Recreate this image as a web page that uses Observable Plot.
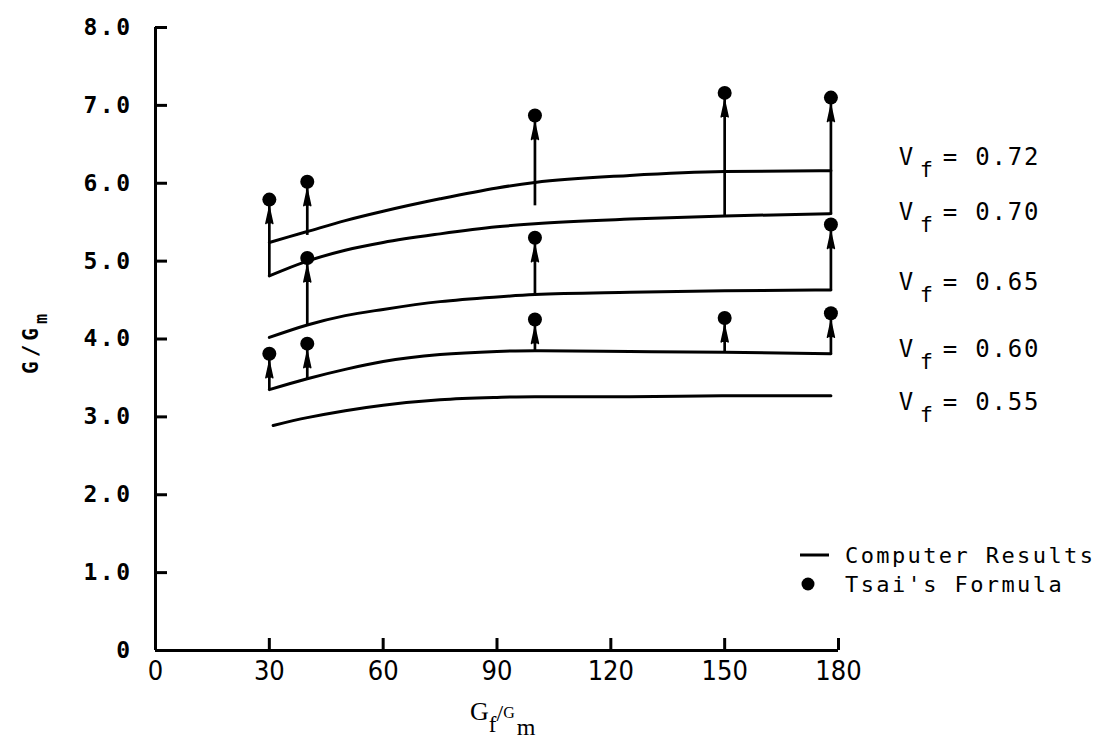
<!DOCTYPE html>
<html><head><meta charset="utf-8">
<script src="https://cdn.jsdelivr.net/npm/d3@7"></script>
<script src="https://cdn.jsdelivr.net/npm/@observablehq/plot@0.6"></script>
<style>body{margin:0;background:#fff} svg{display:block;background:#fff}</style>
</head><body><div id="chart"></div>
<script>
// ---- data ----
const curveX    = [30, 40, 50, 60, 75, 90, 100, 125, 150, 178];
const curveX055 = [31, 40, 50, 60, 75, 90, 100, 125, 150, 178];
const vf072 = [5.24, 5.38, 5.52, 5.64, 5.80, 5.94, 6.01, 6.10, 6.15, 6.16];
const vf070 = [4.81, 5.00, 5.14, 5.24, 5.35, 5.44, 5.48, 5.54, 5.58, 5.61];
const vf065 = [4.02, 4.18, 4.30, 4.38, 4.48, 4.54, 4.57, 4.60, 4.62, 4.63];
const vf060 = [3.35, 3.49, 3.61, 3.71, 3.80, 3.84, 3.85, 3.84, 3.83, 3.81];
const vf055 = [2.89, 2.99, 3.08, 3.15, 3.22, 3.25, 3.26, 3.26, 3.27, 3.27];
const seriesNames = ["0.72", "0.70", "0.65", "0.60", "0.55"];

const tsaiX    = [30, 30, 40, 40, 40, 100, 100, 100, 150, 150, 178, 178, 178];
const tsaiY    = [5.79, 3.81, 6.02, 5.04, 3.94, 6.87, 5.30, 4.25, 7.16, 4.27, 7.10, 5.47, 4.33];
const stemBase = [4.81, 3.35, 5.33, 4.18, 3.49, 5.71, 4.57, 3.85, 5.58, 3.83, 5.61, 4.63, 3.81];

const xTicks = [0, 30, 60, 90, 120, 150, 180];
const yTicks = [0, 1, 2, 3, 4, 5, 6, 7, 8];

// ---- build tables ----
const seriesVals = [vf072, vf070, vf065, vf060, vf055];
const lines = [];
seriesVals.forEach((vals, s) => {
  const xs = s === 4 ? curveX055 : curveX;
  vals.forEach((v, i) => lines.push({series: seriesNames[s], x: xs[i], y: v}));
});
const tsai = tsaiX.map((x, i) => ({x, y: tsaiY[i], base: stemBase[i]}));

const mono = "DejaVu Sans Mono, Liberation Mono, monospace";
const narrow = "Liberation Sans Narrow, DejaVu Sans Condensed, sans-serif";
const serif = "Liberation Serif, DejaVu Serif, serif";

const plot = Plot.plot({
  width: 1103, height: 741,
  marginLeft: 155, marginRight: 265, marginTop: 27, marginBottom: 91,
  x: {domain: [0, 180]},
  y: {domain: [0, 8]},
  style: {background: "#fff", color: "#000"},
  marks: [
    Plot.axisY(yTicks, {tickSize: -12, tickPadding: 35, strokeWidth: 3,
      tickFormat: d => d === 0 ? "0" : d.toFixed(1),
      fontSize: 23, fontFamily: mono, fontWeight: "bold", label: null}),
    Plot.axisX(xTicks, {tickSize: -12, tickPadding: 22, strokeWidth: 3,
      tickFormat: d => String(d),
      fontSize: 27, fontFamily: narrow, label: null}),
    Plot.ruleY([0], {strokeWidth: 3}),
    Plot.ruleX([0], {strokeWidth: 3}),
    Plot.line(lines, {x: "x", y: "y", z: "series", curve: "monotone-x", stroke: "#000", strokeWidth: 3}),
    Plot.ruleX(tsai, {x: "x", y1: "base", y2: "y", stroke: "#000", strokeWidth: 2.7}),
    Plot.dot(tsai, {x: "x", y: "y", r: 7, fill: "#000"}),
    Plot.vector(tsai, {x: "x", y: "y", length: 16, r: 3.5, shape: "spike", anchor: "start",
      dy: 24, fill: "#000", stroke: "#000", strokeWidth: 1.5})
  ]
});
document.getElementById("chart").append(plot);

// ---- text annotations placed through the plot's scales ----
const sx = plot.scale("x"), sy = plot.scale("y");
const svg = d3.select(plot);
svg.selectAll("g[aria-label='y-axis tick label'] text").attr("letter-spacing", 2.5);

// series labels (V_f = ...) at the right, baseline levels in data units
const labelLevels = [6.23, 5.52, 4.62, 3.76, 3.08];
const labelX = sx.apply(196);
seriesNames.forEach((name, i) => {
  const y = sy.apply(labelLevels[i]);
  const g = svg.append("g").attr("font-family", mono).attr("fill", "#000").attr("text-anchor", "start");
  g.append("text").attr("x", labelX).attr("y", y).attr("font-size", 24).text("V");
  g.append("text").attr("x", labelX + 21).attr("y", y + 12).attr("font-size", 22).text("f");
  g.append("text").attr("x", labelX + 44).attr("y", y).attr("font-size", 24)
    .attr("letter-spacing", 1.8).text("= " + name);
});

// y axis title
const yt = svg.append("text").attr("transform", `translate(38,374) rotate(-90)`)
  .attr("text-anchor", "start").attr("font-family", mono).attr("font-weight", "bold")
  .attr("font-size", 21).attr("letter-spacing", 4).attr("fill", "#000");
yt.append("tspan").text("G/G");
yt.append("tspan").attr("dy", 9).attr("font-size", 17).attr("letter-spacing", 0).text("m");

// x axis title
const xt = svg.append("text").attr("x", 470).attr("y", 720).attr("text-anchor", "start")
  .attr("font-family", serif).attr("font-size", 26).attr("fill", "#000");
xt.append("tspan").text("G");
xt.append("tspan").attr("dy", 12).attr("font-size", 23).text("f");
xt.append("tspan").attr("dy", -11).attr("font-size", 24).text("/");
xt.append("tspan").attr("dy", -3).attr("font-size", 16).text("G");
xt.append("tspan").attr("dx", 2).attr("dy", 17).attr("font-size", 24).text("m");

// legend
const lg = svg.append("g").attr("font-family", mono).attr("font-size", 22).attr("fill", "#000").attr("text-anchor", "start");
lg.append("line").attr("x1", 800).attr("x2", 829).attr("y1", 555).attr("y2", 555)
  .attr("stroke", "#000").attr("stroke-width", 3);
lg.append("text").attr("x", 845).attr("y", 563).attr("letter-spacing", 2.4).text("Computer Results");
lg.append("circle").attr("cx", 808).attr("cy", 584).attr("r", 6.5).attr("fill", "#000");
lg.append("text").attr("x", 845).attr("y", 592).attr("letter-spacing", 2.4).text("Tsai's Formula");
</script></body></html>
